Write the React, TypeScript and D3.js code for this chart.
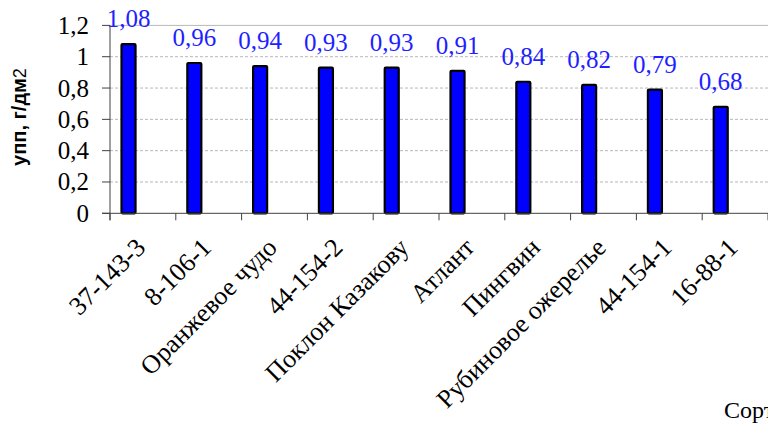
import React from "react";
import * as d3 from "d3";

const categories = [
  "37-143-3",
  "8-106-1",
  "Оранжевое чудо",
  "44-154-2",
  "Поклон Казакову",
  "Атлант",
  "Пингвин",
  "Рубиновое ожерелье",
  "44-154-1",
  "16-88-1",
];
const values = [1.08, 0.96, 0.94, 0.93, 0.93, 0.91, 0.84, 0.82, 0.79, 0.68];
const yTicks = [0, 0.2, 0.4, 0.6, 0.8, 1, 1.2];

const W = 768;
const H = 425;
const left = 110;
const right = 768;
const top = 25.4;
const bottom = 213.3;

const serif = "'Liberation Serif', 'Times New Roman', serif";
const sans = "'Liberation Sans', Arial, sans-serif";

const comma = (v: number, digits: number) => v.toFixed(digits).replace(".", ",");
const tickText = (v: number) => (Number.isInteger(v) ? String(v) : comma(v, 1));

export default function App() {
  const x = d3.scaleBand<string>().domain(categories).range([left, right]).paddingInner(0).paddingOuter(0);
  const y = d3.scaleLinear().domain([0, 1.2]).range([bottom, top]);
  const bw = x.bandwidth();
  const barOffset = bw * 0.175;
  const barWidth = bw * 0.213;
  const boundaries = categories.map((c) => x(c) as number).concat([right]);

  return (
    <svg
      width={W}
      height={H}
      viewBox={`0 0 ${W} ${H}`}
      style={{ position: "absolute", left: 0, top: 0, background: "#fff" }}
    >
      {/* grid */}
      {yTicks
        .filter((t) => t > 0)
        .map((t) => (
          <line
            key={`g${t}`}
            x1={left}
            x2={right}
            y1={y(t)}
            y2={y(t)}
            stroke="#b8b8b8"
            strokeWidth={1}
            strokeDasharray={t === 1.2 ? undefined : "3,2"}
          />
        ))}

      {/* bars */}
      {categories.map((c, i) => (
        <rect
          key={`b${c}`}
          x={(x(c) as number) + barOffset}
          y={y(values[i])}
          width={barWidth}
          height={bottom - y(values[i])}
          fill="#0000ff"
          stroke="#000"
          strokeWidth={2.2}
          rx={1}
        />
      ))}

      {/* value labels */}
      {categories.map((c, i) => (
        <text
          key={`v${c}`}
          x={(x(c) as number) + barOffset + barWidth / 2}
          y={y(values[i]) - 17}
          textAnchor="middle"
          fontFamily={serif}
          fontSize={25}
          fill="#1f1fff"
        >
          {comma(values[i], 2)}
        </text>
      ))}

      {/* axes */}
      <line x1={left} x2={left} y1={top} y2={bottom + 7} stroke="#404040" strokeWidth={1} />
      <line x1={left - 8} x2={right} y1={bottom} y2={bottom} stroke="#404040" strokeWidth={1} />
      {yTicks.map((t) => (
        <g key={`yt${t}`}>
          <line x1={left - 8} x2={left} y1={y(t)} y2={y(t)} stroke="#404040" />
          <text
            x={89}
            y={y(t)}
            dy="0.34em"
            textAnchor="end"
            fontFamily={serif}
            fontSize={25}
            fill="#000"
          >
            {tickText(t)}
          </text>
        </g>
      ))}
      {boundaries.map((b, i) => (
        <line key={`xt${i}`} x1={b} x2={b} y1={bottom} y2={bottom + 7} stroke="#404040" />
      ))}

      {/* category labels */}
      {categories.map((c) => {
        const cx = (x(c) as number) + bw / 2 + 4;
        const cy = 249;
        return (
          <text
            key={`c${c}`}
            transform={`translate(${cx},${cy}) rotate(-45)`}
            textAnchor="end"
            fontFamily={serif}
            fontSize={26}
            fill="#000"
          >
            {c}
          </text>
        );
      })}

      {/* axis titles */}
      <text
        transform={`translate(26,117) rotate(-90)`}
        textAnchor="middle"
        fontFamily={sans}
        fill="#000"
      >
        <tspan fontWeight="bold" fontSize={20}>упп, г/дм</tspan>
        <tspan fontSize={18}>2</tspan>
      </text>
      <text x={724} y={418} fontFamily={serif} fontSize={24} fill="#000">
        Сорт
      </text>
    </svg>
  );
}
